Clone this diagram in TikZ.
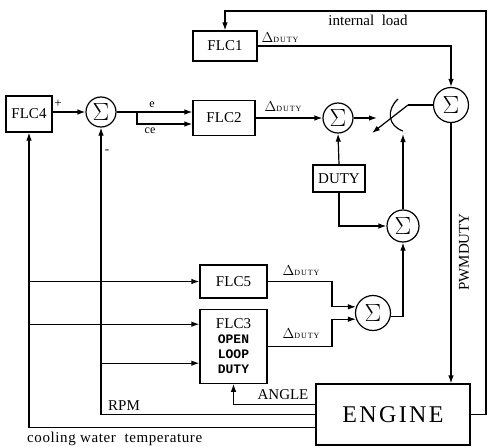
\documentclass[tikz,border=0pt]{standalone}
\usepackage{fontspec}
\setmainfont{Liberation Serif}
\newfontfamily\monofont{Liberation Mono}
\newfontfamily\engfont[LetterSpace=10]{Liberation Serif}
\newfontfamily\tagfont[LetterSpace=12]{Liberation Serif}
\newfontfamily\widefont[LetterSpace=4]{Liberation Serif}
\usetikzlibrary{arrows.meta, positioning, calc}

\newcommand{\dduty}{{\fontsize{15}{15}\selectfont$\Delta$}{\fontsize{8}{8}\tagfont DUTY}}

\begin{document}
\begin{tikzpicture}[
    x=1pt, y=-1pt,
    font=\fontsize{15}{17}\selectfont,
    block/.style={rectangle, draw, line width=1.2pt, inner sep=0pt, align=center},
    sumnode/.style={circle, draw, line width=1.2pt, inner sep=0pt, minimum size=#1, font=\fontsize{25}{25}\selectfont},
    sumnode/.default=32pt,
    arrow/.style={-{Latex[length=8pt,width=5.5pt]}, line width=1.2pt},
    wire/.style={line width=1.2pt},
    lbl/.style={inner sep=1pt}
]
\useasboundingbox (0,0) rectangle (488,447);

% Nodes
\node[block, minimum width=64pt, minimum height=30pt] (flc1) at (225,46) {FLC1};
\node[block, minimum width=46pt, minimum height=36pt] (flc4) at (29,114) {FLC4};
\node[sumnode=30pt] (sum2) at (101,112) {$\Sigma$};
\node[block, minimum width=62pt, minimum height=35pt] (flc2) at (224,118) {FLC2};
\node[sumnode=30pt] (sum3) at (338,118) {$\Sigma$};
\node[sumnode=35pt] (sum1) at (451,105) {$\Sigma$};
\node[block, minimum width=52pt, minimum height=27pt] (duty) at (339,178.5) {DUTY};
\node[sumnode] (sum4) at (403,226) {$\Sigma$};
\node[block, minimum width=67pt, minimum height=33pt] (flc5) at (233.5,281.5) {FLC5};
\node[block, minimum width=67pt, minimum height=74pt, below=10pt of flc5,
      font=\fontsize{13}{15}\selectfont] (flc3)
      {\fontsize{15}{15}\selectfont FLC3\\{\monofont\bfseries OPEN}\\{\monofont\bfseries LOOP}\\{\monofont\bfseries DUTY}};
\node[sumnode=35pt] (sum5) at (373,313) {$\Sigma$};
\node[block, minimum width=154pt, minimum height=61pt, font=\fontsize{24}{24}\engfont] (engine) at (393,414.5) {ENGINE};

% Switch and helper points
\coordinate (split) at (137,112);
\coordinate (pivot) at (408,105);
\coordinate (blade) at (372,133);
\coordinate (swin) at (377,118);
\coordinate (swlow) at (403,134);
\coordinate (corner) at (486,11);
\coordinate (in3a) at ($(flc3.west)+(0,-22)$);
\coordinate (in3b) at ($(flc3.west)+(0,17)$);

% Arrows
\draw[arrow] (flc4.east |- sum2) -- (sum2.west);
\draw[wire] (sum2.east) -- (split);
\draw[arrow] (split) -- ($(flc2.west)+(0,-6)$);
\draw[arrow] (split) |- ($(flc2.west)+(0,6)$);
\draw[arrow] (flc2.east) -- (sum3.west);
\draw[arrow] (sum3.east) -- (swin);
\draw[arrow] (duty.north) -- (sum3.south);
\draw[arrow] (duty.south) |- (sum4.west);
\draw[arrow] (sum4.north) -- (swlow);
\draw[wire] (sum1.west) -- (pivot);
\draw[arrow] (pivot) -- (blade);
\draw[wire] (398,99) .. controls (386,110) and (388,126) .. (403,131);
\draw[arrow] (flc1.east) -| (sum1.north);
\draw[arrow] (engine.east) -| (corner) -| (flc1.north);
\draw[arrow] (sum1.south) -- (sum1.south |- engine.north);
\draw[arrow] (flc5.east) -| ($(sum5.160)+(-24,0)$) -- (sum5.160);
\draw[arrow] (flc3.east) -| ($(sum5.200)+(-24,0)$) -- (sum5.200);
\draw[arrow] (sum5.-10) -| (sum4.south);
\draw[arrow] ($(engine.west)+(0,13)$) -| (flc4.south);
\draw[arrow] (engine.west) -| (sum2.south);
\draw[arrow] ($(engine.west)+(0,-10)$) -| (flc3.south);
\draw[arrow] (flc4.south |- flc5.west) -- (flc5.west);
\draw[arrow] (flc4.south |- in3a) -- (in3a);
\draw[arrow] (sum2.south |- in3b) -- (in3b);

% Labels
\node[lbl, font=\fontsize{13}{13}\selectfont] (plus) at (58,104) {+};
\node[lbl, font=\fontsize{13}{13}\selectfont] (minus) at (107,152) {-};
\node[lbl, font=\fontsize{12}{12}\selectfont] (elbl) at (152,105) {e};
\node[lbl, font=\fontsize{12}{12}\selectfont] (celbl) at (150,131) {ce};
\node[lbl] (d1) at (280,38) {\dduty};
\node[lbl] (d2) at (283,107) {\dduty};
\node[lbl] (d5) at (301,271) {\dduty};
\node[lbl] (d3) at (301,334) {\dduty};
\node[lbl] (load) at (368,20) {internal\ \ load};
\node[lbl, rotate=90] (pwm) at (464,252) {PWMDUTY};
\node[lbl] (rpm) at (124,406) {RPM};
\node[lbl] (angle) at (283,395) {ANGLE};
\node[lbl, anchor=west, font=\fontsize{15}{15}\widefont] (cool) at (26,439) {cooling\ water\ \ temperature};

\end{tikzpicture}
\end{document}
